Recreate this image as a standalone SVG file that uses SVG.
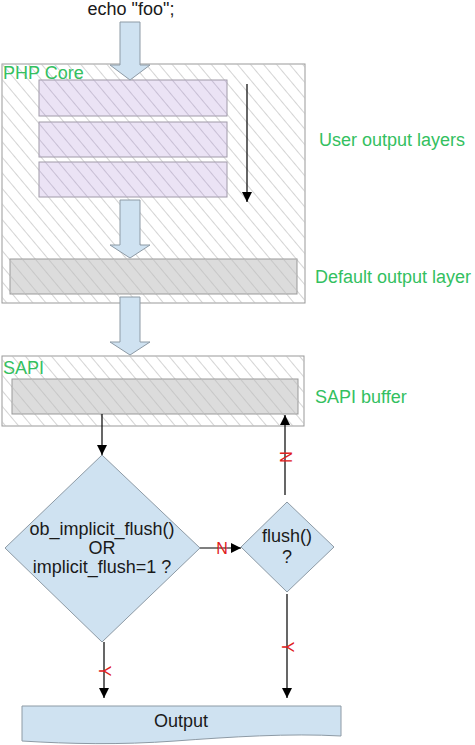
<svg xmlns="http://www.w3.org/2000/svg" width="475" height="745" viewBox="0 0 475 745">
<style>
text{font-family:"Liberation Sans",Arial,sans-serif;font-size:18px}
.g{fill:#33c060}
.k{fill:#1a1a1a}
.r{fill:#e02020;font-size:16px}
.frame{fill:#fff;stroke:#999;stroke-width:1}
.hatch{fill:url(#h);stroke:none}
.lav{fill:#ebe3f5;stroke:#a09aa8;stroke-width:1}
.gray{fill:#dcdcdc;stroke:#999;stroke-width:1}
.blue{fill:#cfe2f1;stroke:#8d9aa5;stroke-width:1}
.conn{stroke:#000;stroke-width:1.2;fill:none;marker-end:url(#a)}
</style>
<defs>
<pattern id="h" patternUnits="userSpaceOnUse" width="10" height="10" patternTransform="rotate(-40)">
<line x1="0" y1="0" x2="0" y2="10" stroke="#bdbdbd" stroke-width="1.3"/>
</pattern>
<pattern id="h2" patternUnits="userSpaceOnUse" width="10" height="10" patternTransform="rotate(-40)">
<line x1="0" y1="0" x2="0" y2="10" stroke="#b4acc2" stroke-width="1.3"/>
</pattern>
<marker id="a" viewBox="0 0 10 10" refX="10" refY="5" markerWidth="10" markerHeight="10" markerUnits="userSpaceOnUse" orient="auto">
<path d="M0,0 L10,5 L0,10 Z" fill="#000"/>
</marker>
</defs>

<g id="echo"><text class="k" x="131" y="15" text-anchor="middle">echo "foo";</text></g>

<g id="php-core">
<rect class="frame" x="2" y="64" width="303" height="239"/>
<rect class="hatch" x="2" y="64" width="303" height="239"/>
<text class="g" x="3" y="79">PHP Core</text>
</g>

<g id="user-layers">
<rect class="lav" x="39" y="80" width="188" height="36"/>
<rect x="39" y="80" width="188" height="36" fill="url(#h2)"/>
<rect class="lav" x="39" y="122" width="188" height="35"/>
<rect x="39" y="122" width="188" height="35" fill="url(#h2)"/>
<rect class="lav" x="39" y="162" width="188" height="35"/>
<rect x="39" y="162" width="188" height="35" fill="url(#h2)"/>
<text class="g" x="319" y="146">User output layers</text>
</g>

<g id="default-layer">
<rect class="gray" x="10" y="259" width="287" height="35"/>
<rect class="hatch" x="10" y="259" width="287" height="35"/>
<text class="g" x="315" y="283">Default output layer</text>
</g>

<g id="sapi">
<rect class="frame" x="2" y="356" width="302" height="70"/>
<rect class="hatch" x="2" y="356" width="302" height="70"/>
<text class="g" x="3" y="374">SAPI</text>
</g>

<g id="sapi-buffer">
<rect class="gray" x="12" y="379" width="286" height="35"/>
<rect class="hatch" x="12" y="379" width="286" height="35"/>
<text class="g" x="315" y="403">SAPI buffer</text>
</g>

<g id="implicit-flush">
<polygon class="blue" points="102,455 200,548 102,642 5,548"/>
<text class="k" x="102" y="535" text-anchor="middle">ob_implicit_flush()</text>
<text class="k" x="102" y="554" text-anchor="middle">OR</text>
<text class="k" x="102" y="573" text-anchor="middle">implicit_flush=1 ?</text>
</g>

<g id="flush">
<polygon class="blue" points="287,502 334,547 287,592 241,547"/>
<text class="k" x="287" y="542" text-anchor="middle">flush()</text>
<text class="k" x="287" y="563" text-anchor="middle">?</text>
</g>

<g id="output">
<path class="blue" d="M22,706 L341,706 L341,736 C290,733 230,737 175,741 C120,745 70,744 22,741 Z"/>
<text class="k" x="181" y="727" text-anchor="middle">Output</text>
</g>

<g id="connectors">
<path class="blue" d="M120,22 H140 V65 H150 L130,80 L110,65 H120 Z"/>
<path class="blue" d="M120,200 H140 V245 H150 L130,258 L110,245 H120 Z"/>
<path class="blue" d="M120,297 H140 V342 H150 L130,355 L110,342 H120 Z"/>
<line class="conn" x1="247" y1="84" x2="247" y2="202"/>
<line class="conn" x1="102" y1="414" x2="102" y2="455"/>
<line class="conn" x1="200" y1="548" x2="241" y2="548"/>
<text class="r" x="222" y="554" text-anchor="middle">N</text>
<line class="conn" x1="285" y1="495" x2="285" y2="415"/>
<text class="r" transform="translate(285,457) rotate(90)" x="0" y="5" text-anchor="middle">N</text>
<line class="conn" x1="287" y1="594" x2="287" y2="698"/>
<text class="r" transform="translate(287,647) rotate(90)" x="0" y="5" text-anchor="middle">Y</text>
<line class="conn" x1="104" y1="642" x2="104" y2="698"/>
<text class="r" transform="translate(104,671) rotate(90)" x="0" y="5" text-anchor="middle">Y</text>
</g>
</svg>
